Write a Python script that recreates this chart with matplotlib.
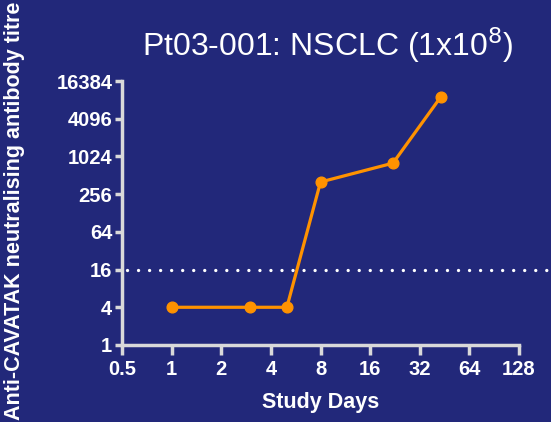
import matplotlib
matplotlib.use("Agg")
import matplotlib.pyplot as plt
from matplotlib.ticker import NullLocator

# data
days = [1, 3, 5, 8, 22, 43]
titre = [4, 4, 4, 400, 800, 9200]
threshold = 16

x_ticks = [0.5, 1, 2, 4, 8, 16, 32, 64, 128]
x_labels = ["0.5", "1", "2", "4", "8", "16", "32", "64", "128"]
y_ticks = [1, 4, 16, 64, 256, 1024, 4096, 16384]
y_labels = [str(v) for v in y_ticks]

bg = "#22287a"
orange = "#ff9200"
spine_col = "#d9d9d9"

plt.rcParams['font.family'] = ['Liberation Sans', 'DejaVu Sans']

fig = plt.figure(figsize=(5.51, 4.22), dpi=100, facecolor=bg)
ax = fig.add_axes([0.2214, 0.1825, 0.7206, 0.6255], facecolor=bg)

ax.set_xscale('log', base=2)
ax.set_yscale('log', base=2)
ax.set_xlim(0.5, 128)
ax.set_ylim(1, 16384)

ax.plot(days, titre, color=orange, lw=2.3, marker='o', ms=7.7, zorder=3, clip_on=False)

# dotted threshold line running past the axes to the figure edge
ax.axhline(threshold, xmin=0.012, xmax=1.09, color='white', lw=2.4,
           linestyle=(0, (0.01, 3.3)), dash_capstyle='round', clip_on=False, zorder=2)

for s in ['top', 'right']:
    ax.spines[s].set_visible(False)
for s in ['left', 'bottom']:
    ax.spines[s].set_color(spine_col)
    ax.spines[s].set_linewidth(2.5)

tick_font = dict(fontsize=14.5, fontweight='bold', color='white')
ax.set_xticks(x_ticks, x_labels, **tick_font)
ax.set_yticks(y_ticks, y_labels, **tick_font)
ax.xaxis.set_minor_locator(NullLocator())
ax.yaxis.set_minor_locator(NullLocator())
ax.tick_params(axis='y', direction='out', length=5, width=2.5, color=spine_col, pad=2)
ax.tick_params(axis='x', direction='out', length=7, width=2.5, color=spine_col, pad=4)

ax.set_xlabel("Study Days", color='white', fontsize=15.5, fontweight='bold', labelpad=9)
fig.text(0.027, 0.5, "Anti-CAVATAK neutralising antibody titre", rotation=90,
         color='white', fontsize=15.5, fontweight='bold', ha='center', va='center')
fig.text(0.595, 0.893, r"Pt03-001: NSCLC (1x10$^{8}$)", color='white', fontsize=23,
         ha='center', va='center')

fig.savefig("out.png", dpi=100, facecolor=bg)
